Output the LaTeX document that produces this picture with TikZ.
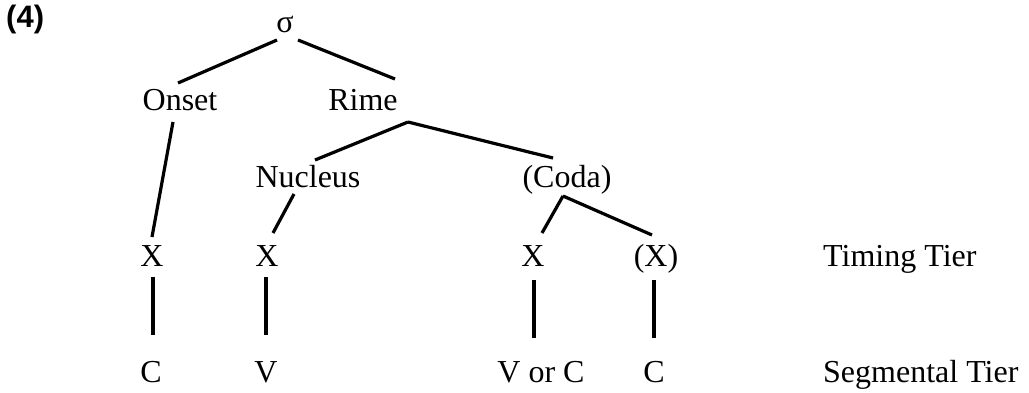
\documentclass[tikz,border=0pt]{standalone}
\usepackage{fontspec}
\setmainfont{Liberation Serif}
\setsansfont{Liberation Sans}
\usetikzlibrary{calc}
\begin{document}
\begin{tikzpicture}[x=1pt,y=-1pt,
  lbl/.style={inner sep=0pt,anchor=base,font=\fontsize{32}{38}\selectfont},
  tier/.style={lbl,anchor=base west},
  br/.style={line width=3.2pt}]
\useasboundingbox (0,0) rectangle (1029,392);
\node[inner sep=0pt,anchor=base west,font=\fontsize{31}{37}\selectfont\sffamily\bfseries] (num) at (6,27) {(4)};
\node[lbl] (sigma) at (285,32) {σ};
\node[lbl] (onset) at (180,110) {Onset};
\node[lbl] (rime) at (363,110) {Rime};
\node[lbl] (nucleus) at (308,187) {Nucleus};
\node[lbl] (coda) at (567,187) {(Coda)};
\node[lbl] (x1) at (152,266) {X};
\node[lbl] (x2) at (267,266) {X};
\node[lbl] (x3) at (533,266) {X};
\node[lbl] (x4) at (656,266) {(X)};
\node[tier] (timing) at (823,266) {Timing Tier};
\node[lbl] (c1) at (151,382) {C};
\node[lbl] (v) at (266,382) {V};
\node[lbl] (vorc) at (541,382) {V or C};
\node[lbl] (c4) at (654,382) {C};
\node[tier] (segmental) at (823,382) {Segmental Tier};
\draw[br] ($(sigma.base)+(-8,8)$) -- ($(onset.base)+(-2,-27)$);
\draw[br] ($(sigma.base)+(13,8)$) -- ($(rime.base)+(32,-31)$);
\draw[br] ($(rime.base)+(45,12)$) -- ($(nucleus.base)+(7,-27)$);
\draw[br] ($(rime.base)+(45,12)$) -- ($(coda.base)+(-14,-29)$);
\draw[br] ($(onset.base)+(-7,12)$) -- ($(x1.base)+(0,-29)$);
\draw[br] ($(nucleus.base)+(-14,7)$) -- ($(x2.base)+(6,-33)$);
\draw[br] ($(coda.base)+(-4,9)$) -- ($(x3.base)+(9,-33)$);
\draw[br] ($(coda.base)+(-4,9)$) -- ($(x4.base)+(-4,-31)$);
\draw[br] ($(x1.base)+(1,11)$) -- ($(c1.base)+(2,-47)$);
\draw[br] ($(x2.base)+(-1,11)$) -- ($(v.base)+(0,-47)$);
\draw[br] ($(x3.base)+(1,14)$) -- ($(vorc.base)+(-7,-44)$);
\draw[br] ($(x4.base)+(-2,14)$) -- ($(c4.base)+(0,-44)$);
\end{tikzpicture}
\end{document}
